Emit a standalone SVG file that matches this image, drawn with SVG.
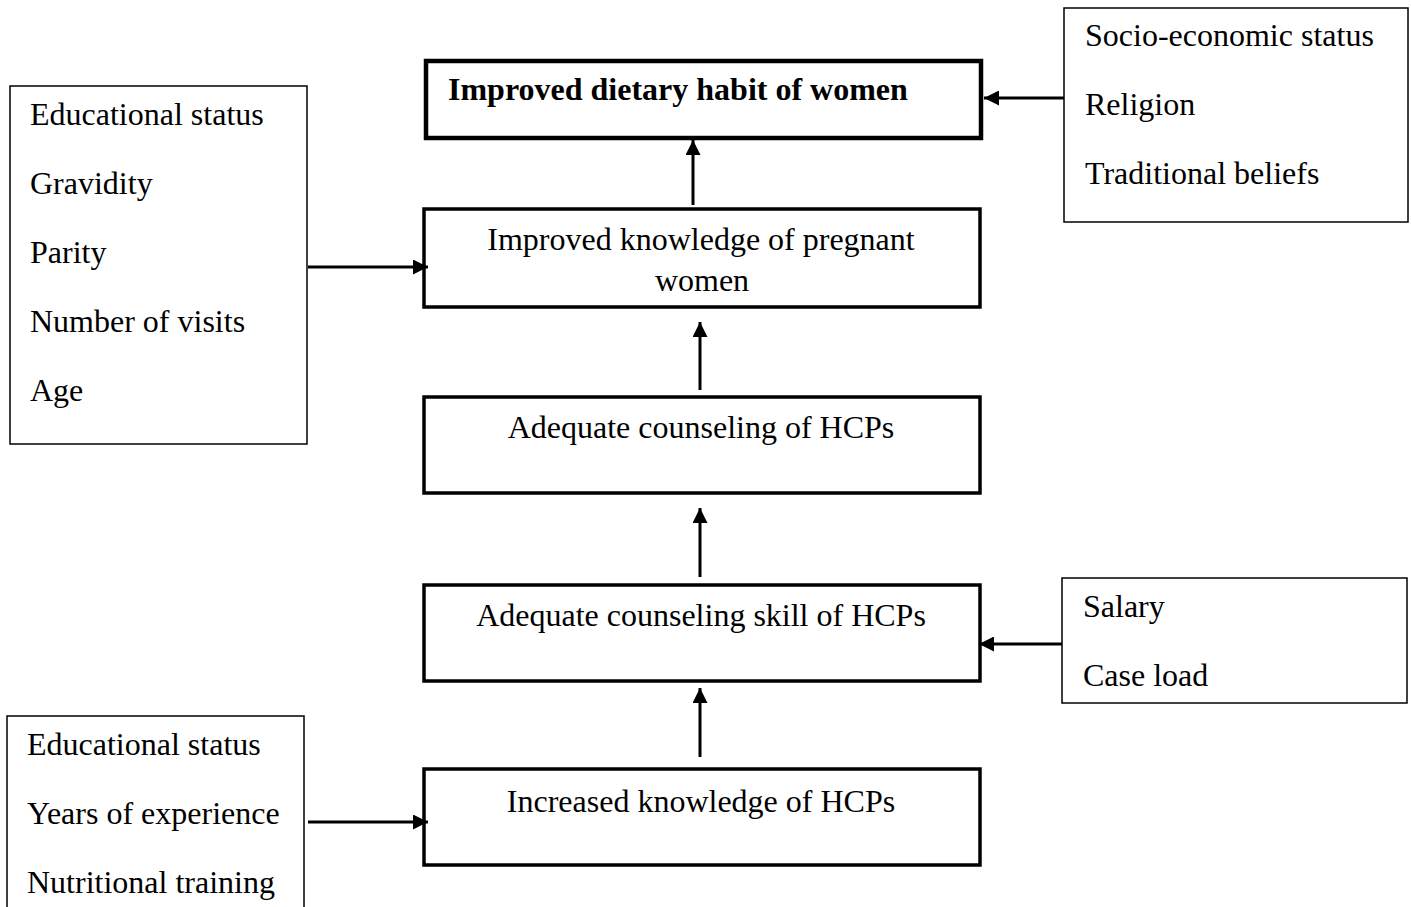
<svg xmlns="http://www.w3.org/2000/svg" width="1411" height="907" viewBox="0 0 1411 907">
  <style>
    .t { font-family: "Liberation Serif", "Times New Roman", serif; font-size: 32px; fill: #000; }
    .b { font-weight: bold; }
    .c { text-anchor: middle; }
    .main { fill: #fff; stroke: #000; stroke-width: 3.5; }
    .top { fill: #fff; stroke: #000; stroke-width: 4.5; }
    .side { fill: #fff; stroke: #000; stroke-width: 1.5; }
    .conn { stroke: #000; stroke-width: 3; fill: none; marker-end: url(#arr); }
  </style>
  <defs>
    <marker id="arr" markerUnits="userSpaceOnUse" markerWidth="15" markerHeight="15" refX="15" refY="7.5" orient="auto">
      <path d="M0,0 L15,7.5 L0,15 z" fill="#000"/>
    </marker>
  </defs>
  <rect width="1411" height="907" fill="#fff"/>

  <g id="node-dietary">
    <rect class="top" x="426" y="61" width="555" height="77"/>
    <text class="t b" x="448" y="100">Improved dietary habit of women</text>
  </g>
  <g id="node-knowledge-women">
    <rect class="main" x="424" y="209" width="556" height="98"/>
    <text class="t c" x="701" y="250">Improved knowledge of pregnant</text>
    <text class="t c" x="702" y="291">women</text>
  </g>
  <g id="node-counseling">
    <rect class="main" x="424" y="397" width="556" height="96"/>
    <text class="t c" x="701" y="438">Adequate counseling of HCPs</text>
  </g>
  <g id="node-skill">
    <rect class="main" x="424" y="585" width="556" height="96"/>
    <text class="t c" x="701" y="626">Adequate counseling skill of HCPs</text>
  </g>
  <g id="node-knowledge-hcp">
    <rect class="main" x="424" y="769" width="556" height="96"/>
    <text class="t c" x="701" y="812">Increased knowledge of HCPs</text>
  </g>
  <g id="node-women-factors">
    <rect class="side" x="10" y="86" width="297" height="358"/>
    <text class="t" x="30" y="125">Educational status</text>
    <text class="t" x="30" y="194">Gravidity</text>
    <text class="t" x="30" y="263">Parity</text>
    <text class="t" x="30" y="332">Number of visits</text>
    <text class="t" x="30" y="401">Age</text>
  </g>
  <g id="node-hcp-factors">
    <rect class="side" x="7" y="716" width="297" height="200"/>
    <text class="t" x="27" y="755">Educational status</text>
    <text class="t" x="27" y="824">Years of experience</text>
    <text class="t" x="27" y="893">Nutritional training</text>
  </g>
  <g id="node-social-factors">
    <rect class="side" x="1064" y="8" width="344" height="214"/>
    <text class="t" x="1085" y="46">Socio-economic status</text>
    <text class="t" x="1085" y="115">Religion</text>
    <text class="t" x="1085" y="184">Traditional beliefs</text>
  </g>
  <g id="node-work-factors">
    <rect class="side" x="1062" y="578" width="345" height="125"/>
    <text class="t" x="1083" y="617">Salary</text>
    <text class="t" x="1083" y="686">Case load</text>
  </g>

  <g id="connectors">
    <line class="conn" x1="693" y1="205" x2="693" y2="140"/>
    <line class="conn" x1="700" y1="390" x2="700" y2="322"/>
    <line class="conn" x1="700" y1="577" x2="700" y2="508"/>
    <line class="conn" x1="700" y1="757" x2="700" y2="688"/>
    <line class="conn" x1="308" y1="267" x2="428" y2="267"/>
    <line class="conn" x1="308" y1="822" x2="428" y2="822"/>
    <line class="conn" x1="1064" y1="98" x2="984" y2="98"/>
    <line class="conn" x1="1062" y1="644" x2="979" y2="644"/>
  </g>
</svg>
